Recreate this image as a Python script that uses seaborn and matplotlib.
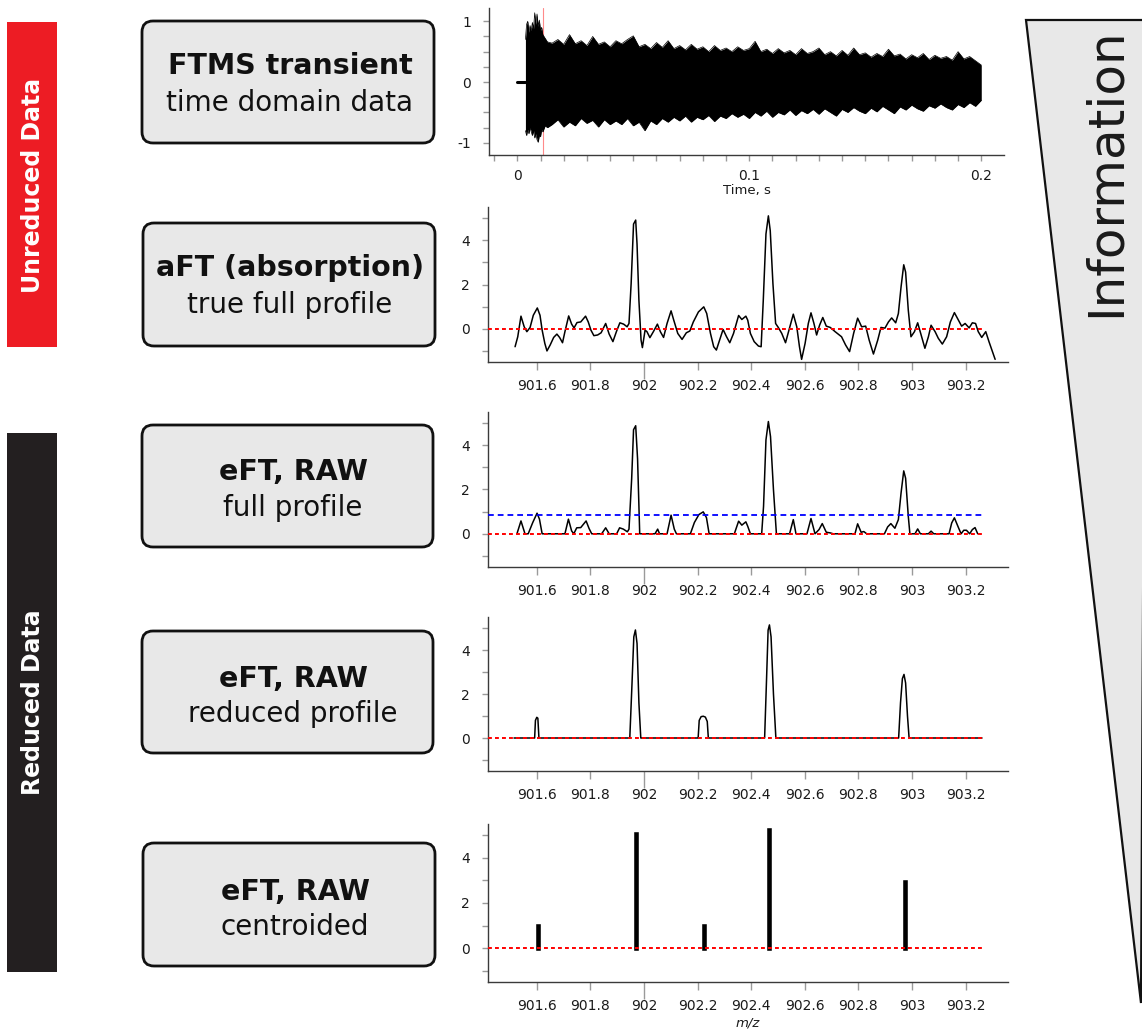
import matplotlib
matplotlib.use("Agg")
import matplotlib.pyplot as plt
import numpy as np
import pandas as pd
import seaborn as sns
from matplotlib.patches import FancyBboxPatch, Polygon, Rectangle
from matplotlib.ticker import FixedLocator

# ---------------- data ----------------
# FTMS transient (time domain) - envelope of the dense oscillation
pre_t = [0.0, 0.0035]
pre_y = [0.0, 0.0]
trans_t = [0.0035, 0.004, 0.0045, 0.005, 0.0055, 0.006, 0.0065, 0.007, 0.0075, 0.008,
           0.0085, 0.009, 0.0095, 0.010, 0.0105, 0.011, 0.012, 0.013,
           0.015, 0.0175, 0.02, 0.0225, 0.025, 0.0275, 0.03, 0.0325, 0.035, 0.0375,
           0.04, 0.0425, 0.045, 0.0475, 0.05, 0.0525, 0.055, 0.0575, 0.06, 0.0625,
           0.065, 0.0675, 0.07, 0.0725, 0.075, 0.0775, 0.08, 0.0825, 0.085, 0.0875,
           0.09, 0.0925, 0.095, 0.0975, 0.10, 0.1025, 0.105, 0.1075, 0.11, 0.1125,
           0.115, 0.1175, 0.12, 0.1225, 0.125, 0.1275, 0.13, 0.1325, 0.135, 0.1375,
           0.14, 0.1425, 0.145, 0.1475, 0.15, 0.1525, 0.155, 0.1575, 0.16, 0.1625,
           0.165, 0.1675, 0.17, 0.1725, 0.175, 0.1775, 0.18, 0.1825, 0.185, 0.1875,
           0.19, 0.1925, 0.195, 0.1975, 0.20]
trans_upper = [0.70, 0.95, 1.00, 0.82, 0.93, 0.85, 0.98, 0.88, 1.14, 0.95,
               1.12, 0.92, 1.02, 0.85, 0.90, 0.78, 0.72, 0.66,
               0.64, 0.70, 0.62, 0.78, 0.63, 0.68, 0.60, 0.75, 0.62, 0.66,
               0.58, 0.68, 0.63, 0.70, 0.76, 0.58, 0.62, 0.55, 0.65, 0.57,
               0.68, 0.55, 0.60, 0.53, 0.62, 0.54, 0.58, 0.50, 0.60, 0.52,
               0.56, 0.50, 0.58, 0.52, 0.55, 0.67, 0.50, 0.54, 0.47, 0.55,
               0.48, 0.52, 0.45, 0.55, 0.47, 0.50, 0.56, 0.45, 0.50, 0.43,
               0.52, 0.44, 0.56, 0.45, 0.48, 0.41, 0.47, 0.42, 0.54, 0.43,
               0.46, 0.38, 0.45, 0.40, 0.47, 0.37, 0.44, 0.39, 0.42, 0.36,
               0.50, 0.38, 0.42, 0.35, 0.28]
trans_lower = [-0.80, -0.88, -0.78, -0.85, -0.75, -0.82, -0.88, -0.80, -0.92, -0.85,
               -0.95, -0.99, -0.88, -0.90, -0.78, -0.82, -0.72, -0.75,
               -0.70, -0.62, -0.74, -0.66, -0.72, -0.60, -0.68, -0.63, -0.74, -0.62,
               -0.70, -0.64, -0.70, -0.60, -0.72, -0.66, -0.80, -0.64, -0.70, -0.60,
               -0.66, -0.58, -0.64, -0.56, -0.66, -0.58, -0.62, -0.55, -0.65, -0.56,
               -0.60, -0.52, -0.58, -0.53, -0.60, -0.50, -0.56, -0.48, -0.58, -0.50,
               -0.54, -0.46, -0.55, -0.47, -0.52, -0.45, -0.53, -0.44, -0.50, -0.56,
               -0.45, -0.50, -0.42, -0.48, -0.52, -0.43, -0.49, -0.40, -0.46, -0.52,
               -0.41, -0.46, -0.38, -0.44, -0.48, -0.39, -0.43, -0.36, -0.42, -0.46,
               -0.37, -0.42, -0.34, -0.40, -0.30]
marker_t = 0.0109

# aFT absorption spectrum
aft_mz = [901.519, 901.529, 901.541, 901.553, 901.563, 901.575, 901.587, 901.602, 901.612, 901.620,
          901.630, 901.638, 901.650, 901.663, 901.675, 901.685, 901.696, 901.705, 901.719, 901.730,
          901.739, 901.750, 901.764, 901.782, 901.792, 901.802, 901.813, 901.827, 901.840, 901.857,
          901.870, 901.884, 901.897, 901.910, 901.924, 901.937, 901.944, 901.952, 901.961, 901.969,
          901.974, 901.981, 901.989, 901.994, 902.004, 902.011, 902.022, 902.035, 902.050, 902.061,
          902.073, 902.086, 902.101, 902.111, 902.126, 902.142, 902.158, 902.171, 902.184, 902.203,
          902.223, 902.234, 902.248, 902.260, 902.270, 902.284, 902.295, 902.308, 902.320, 902.334,
          902.353, 902.365, 902.380, 902.387, 902.397, 902.411, 902.427, 902.437, 902.445, 902.455,
          902.464, 902.471, 902.481, 902.491, 902.501, 902.514, 902.528, 902.541, 902.557, 902.570,
          902.580, 902.588, 902.601, 902.613, 902.623, 902.634, 902.644, 902.655, 902.667, 902.680,
          902.695, 902.713, 902.737, 902.752, 902.767, 902.782, 902.797, 902.812, 902.827, 902.840,
          902.856, 902.872, 902.884, 902.899, 902.912, 902.924, 902.939, 902.949, 902.959, 902.969,
          902.976, 902.986, 902.996, 903.009, 903.021, 903.034, 903.048, 903.061, 903.071, 903.086,
          903.098, 903.113, 903.129, 903.143, 903.158, 903.173, 903.185, 903.198, 903.213, 903.225,
          903.237, 903.247, 903.260, 903.275, 903.287, 903.300, 903.310]
aft_int = [-0.81, -0.36, 0.57, 0.09, -0.13, 0.06, 0.61, 0.94, 0.61, -0.06,
           -0.66, -1.00, -0.73, -0.39, -0.24, -0.39, -0.63, -0.13, 0.58, 0.21,
           0.04, 0.28, 0.31, 0.57, 0.31, -0.06, -0.31, -0.28, -0.18, 0.24,
           -0.24, -0.58, -0.13, 0.27, 0.21, 0.09, 0.24, 2.04, 4.73, 4.91,
           3.83, 1.29, -0.51, -0.85, -0.06, -0.13, -0.40, -0.13, 0.21, -0.13,
           -0.39, 0.24, 0.81, 0.39, -0.21, -0.48, -0.18, -0.10, 0.31, 0.76,
           0.99, 0.69, -0.21, -0.81, -0.96, -0.43, -0.03, -0.36, -0.63, -0.21,
           0.60, 0.42, 0.57, 0.39, -0.21, -0.58, -0.78, -0.81, 1.29, 4.28,
           5.10, 4.43, 2.04, 0.24, 0.06, -0.21, -0.63, -0.06, 0.66, 0.09,
           -0.81, -1.38, -0.66, 0.24, 0.72, 0.24, -0.28, 0.16, 0.51, 0.12,
           0.06, -0.13, -0.36, -0.73, -1.03, -0.21, 0.48, 0.09, 0.12, -0.51,
           -1.14, -0.51, 0.06, 0.03, 0.31, 0.49, 0.27, 0.69, 1.89, 2.89,
           2.56, 0.84, -0.36, -0.13, 0.27, -0.28, -0.88, -0.36, 0.16, -0.13,
           -0.43, -0.69, -0.36, 0.31, 0.73, 0.39, 0.12, 0.24, 0.04, 0.27,
           0.24, -0.13, -0.39, -0.13, -0.58, -1.03, -1.38]

# eFT full profile
eft_mz = [901.526, 901.541, 901.556, 901.568, 901.585, 901.601, 901.610, 901.620, 901.705, 901.718,
          901.730, 901.738, 901.749, 901.764, 901.784, 901.795, 901.805, 901.842, 901.857, 901.870,
          901.898, 901.909, 901.923, 901.938, 901.944, 901.954, 901.961, 901.969, 901.976, 901.984,
          902.041, 902.051, 902.058, 902.086, 902.101, 902.113, 902.121, 902.173, 902.188, 902.205,
          902.221, 902.233, 902.243, 902.337, 902.353, 902.365, 902.380, 902.387, 902.397, 902.439,
          902.446, 902.455, 902.464, 902.472, 902.483, 902.494, 902.543, 902.557, 902.567, 902.608,
          902.623, 902.638, 902.653, 902.665, 902.680, 902.695, 902.706, 902.787, 902.797, 902.810,
          902.820, 902.831, 902.897, 902.909, 902.921, 902.936, 902.949, 902.959, 902.969, 902.976,
          902.986, 902.992, 903.011, 903.021, 903.031, 903.061, 903.071, 903.081, 903.138, 903.148,
          903.158, 903.171, 903.183, 903.193, 903.203, 903.215, 903.225, 903.235, 903.245]
eft_int = [0, 0.58, 0, 0, 0.51, 0.93, 0.66, 0, 0, 0.66,
           0.13, 0, 0.27, 0.28, 0.58, 0.24, 0, 0, 0.27, 0,
           0, 0.27, 0.21, 0.09, 0.21, 2.49, 4.70, 4.88, 3.38, 0,
           0, 0.21, 0, 0, 0.84, 0.21, 0, 0, 0.51, 0.87,
           0.99, 0.73, 0, 0, 0.57, 0.39, 0.54, 0.34, 0, 0,
           1.24, 4.24, 5.07, 4.39, 1.99, 0, 0, 0.64, 0, 0,
           0.69, 0, 0.19, 0.46, 0.07, 0.04, 0, 0, 0.45, 0.07,
           0.10, 0, 0, 0.31, 0.46, 0.25, 0.64, 1.84, 2.84, 2.51,
           0.79, 0, 0, 0.22, 0, 0, 0.12, 0, 0, 0.49,
           0.72, 0.34, 0, 0.16, 0.16, 0, 0.19, 0.28, 0]
threshold = 0.87

# eFT reduced profile
red_mz = [901.515, 901.592, 901.595, 901.600, 901.604, 901.608,
          901.947, 901.955, 901.962, 901.968, 901.974, 901.981, 901.988,
          902.202, 902.206, 902.213, 902.221, 902.229, 902.236, 902.240,
          902.450, 902.457, 902.463, 902.468, 902.474, 902.483, 902.492,
          902.950, 902.957, 902.964, 902.970, 902.976, 902.983, 902.989,
          903.261]
red_int = [0, 0, 0.80, 0.94, 0.90, 0,
           0, 2.40, 4.60, 4.91, 4.30, 1.60, 0,
           0, 0.80, 0.97, 0.99, 0.95, 0.75, 0,
           0, 2.60, 4.90, 5.14, 4.60, 2.00, 0,
           0, 1.60, 2.70, 2.89, 2.50, 1.00, 0,
           0]

# centroids
cent_mz = [901.603, 901.969, 902.224, 902.468, 902.972]
cent_int = [0.97, 5.05, 1.00, 5.24, 2.93]

mz_ticks = [901.6, 901.8, 902.0, 902.2, 902.4, 902.6, 902.8, 903.0, 903.2]
mz_ticklabels = ["901.6", "901.8", "902", "902.2", "902.4", "902.6", "902.8", "903", "903.2"]
t_ticks = [0, 0.1, 0.2]
t_ticklabels = ["0", "0.1", "0.2"]

box_titles = ["FTMS transient", "aFT (absorption)", "eFT, RAW", "eFT, RAW", "eFT, RAW"]
box_subtitles = ["time domain data", "true full profile", "full profile", "reduced profile", "centroided"]
group_labels = ["Unreduced Data", "Reduced Data"]
info_label = "Information"

# ---------------- figure ----------------
sns.set_theme(style="ticks")
plt.rcParams["font.family"] = ["DejaVu Sans"]

W, H, DPI = 1142, 1035, 100
fig = plt.figure(figsize=(W / DPI, H / DPI), dpi=DPI, facecolor="white")
bg = fig.add_axes([0, 0, 1, 1], zorder=0)
bg.set_xlim(0, W)
bg.set_ylim(H, 0)
bg.axis("off")


def px_axes(l, t, r, b):
    ax = fig.add_axes([l / W, 1 - b / H, (r - l) / W, (b - t) / H], zorder=2)
    ax.patch.set_alpha(0)
    for s in ["top", "right"]:
        ax.spines[s].set_visible(False)
    for s in ["left", "bottom"]:
        ax.spines[s].set_color("#3a3a3a")
        ax.spines[s].set_linewidth(1.0)
    return ax


# left group bars
bg.add_patch(Rectangle((7, 22), 50, 325, facecolor="#ed1c24", edgecolor="none"))
bg.add_patch(Rectangle((7, 433), 50, 539, facecolor="#231f20", edgecolor="none"))
bg.text(33, 185, group_labels[0], rotation=90, ha="center", va="center",
        color="white", fontsize=17, fontweight="bold")
bg.text(33, 702, group_labels[1], rotation=90, ha="center", va="center",
        color="white", fontsize=17, fontweight="bold")

# boxes
box_geom = [(142, 21, 434, 143), (143, 223, 435, 346), (142, 425, 433, 547),
            (142, 631, 433, 753), (143, 843, 435, 966)]
box_text = [(290, 74, 111), (290, 276, 313), (293, 480, 516), (293, 687, 722), (295, 900, 935)]
for (x0, y0, x1, y1), (cx, ty, sy), t1, t2 in zip(box_geom, box_text, box_titles, box_subtitles):
    bg.add_patch(FancyBboxPatch((x0, y0), x1 - x0, y1 - y0,
                                boxstyle="round,pad=0,rounding_size=11",
                                facecolor="#e8e8e8", edgecolor="#111111", linewidth=2.0))
    bg.text(cx, ty, t1, ha="center", va="baseline", fontsize=20.5, fontweight="bold", color="#111111")
    bg.text(cx, sy, t2, ha="center", va="baseline", fontsize=20, color="#111111")

# information wedge
bg.add_patch(Polygon([(1026, 20), (1146, 20), (1141, 1003)], closed=True,
                     facecolor="#e8e8e8", edgecolor="#111111", linewidth=1.6))
bg.text(1106, 172, info_label, rotation=90, ha="center", va="center",
        fontsize=36, color="#1a1a1a")

tick_gray = "#9a9a9a"
lab_col = "#1a1a1a"

# ---- panel 1: transient ----
ax1 = px_axes(489, 8, 1004, 155)
ax1.axvline(marker_t, color="#ff8a8a", lw=0.8, zorder=0)
ax1.fill_between(trans_t, trans_lower, trans_upper, color="black", lw=0, zorder=2)
sns.lineplot(x=trans_t, y=trans_upper, ax=ax1, color="black", lw=0.5, estimator=None, zorder=3)
sns.lineplot(x=trans_t, y=trans_lower, ax=ax1, color="black", lw=0.5, estimator=None, zorder=3)
sns.lineplot(x=pre_t, y=pre_y, ax=ax1, color="black", lw=2.2, estimator=None, zorder=3)
ax1.set_xlim(-0.0122, 0.2098)
ax1.set_ylim(-1.20, 1.218)
ax1.xaxis.set_major_locator(FixedLocator(t_ticks))
ax1.set_xticklabels(t_ticklabels)
ax1.xaxis.set_minor_locator(FixedLocator([i / 100 for i in range(-1, 22)]))
ax1.yaxis.set_major_locator(FixedLocator([-1, 0, 1]))
ax1.set_yticklabels(["-1", "0", "1"])
ax1.yaxis.set_minor_locator(FixedLocator([-1.0, -0.75, -0.5, -0.25, 0.25, 0.5, 0.75, 1.0]))
ax1.tick_params(axis="x", which="both", length=4, width=1, color=tick_gray, pad=6,
                labelsize=10, labelcolor=lab_col)
ax1.tick_params(axis="y", which="both", length=4, width=1, color=tick_gray, pad=9,
                labelsize=10, labelcolor=lab_col)
ax1.set_ylabel("")
ax1.set_xlabel("Time, s", fontsize=9.5, color=lab_col, labelpad=1)


# ---- m/z panels ----
def mz_axes(top, bottom):
    ax = px_axes(488, top, 1008, bottom)
    ax.set_xlim(901.418, 903.358)
    ax.set_ylim(-1.5, 5.5)
    ax.xaxis.set_major_locator(FixedLocator(mz_ticks))
    ax.set_xticklabels(mz_ticklabels)
    ax.yaxis.set_major_locator(FixedLocator([0, 2, 4]))
    ax.set_yticklabels(["0", "2", "4"])
    ax.yaxis.set_minor_locator(FixedLocator([-1, 1, 3, 5]))
    ax.tick_params(axis="x", which="major", length=6, width=1, color=tick_gray, pad=6,
                   labelsize=10, labelcolor=lab_col)
    ax.tick_params(axis="y", which="both", length=4, width=1, color=tick_gray, pad=9,
                   labelsize=10, labelcolor=lab_col)
    ax.hlines(0, 901.418, 903.265, colors="red", linestyles=(0, (2, 1.6)), lw=1.4, zorder=5)
    tk = ax.xaxis.get_major_ticks()[2]
    tk.tick1line.set_markersize(12)
    tk.tick1line.set_color("black")
    ax.set_xlabel("")
    ax.set_ylabel("")
    return ax


ax2 = mz_axes(207, 362)
sns.lineplot(x=aft_mz, y=aft_int, ax=ax2, color="black", lw=1.1, estimator=None, sort=False, zorder=3)
ax2.set_xlabel(""); ax2.set_ylabel("")

ax3 = mz_axes(412, 567)
ax3.hlines(threshold, 901.418, 903.265, colors="blue", linestyles=(0, (3.2, 2.2)), lw=1.3, zorder=4)
sns.lineplot(x=eft_mz, y=eft_int, ax=ax3, color="black", lw=1.1, estimator=None, sort=False, zorder=3)
ax3.set_xlabel(""); ax3.set_ylabel("")

ax4 = mz_axes(617, 771)
sns.lineplot(x=red_mz, y=red_int, ax=ax4, color="black", lw=1.1, estimator=None, sort=False, zorder=3)
ax4.set_xlabel(""); ax4.set_ylabel("")

ax5 = mz_axes(824, 982)
cent_df = pd.DataFrame({
    "mz": [m for m in cent_mz for _ in range(2)],
    "intensity": [v for h in cent_int for v in (0.0, h)],
    "peak": [i for i in range(len(cent_mz)) for _ in range(2)],
})
sns.lineplot(data=cent_df, x="mz", y="intensity", units="peak", estimator=None, ax=ax5,
             color="black", lw=3.3, solid_capstyle="projecting", zorder=3)
ax5.set_ylabel("")
ax5.set_xlabel("m/z", fontstyle="italic", fontsize=9.5, color=lab_col, labelpad=3)

fig.savefig("out.png", dpi=DPI, facecolor="white")
